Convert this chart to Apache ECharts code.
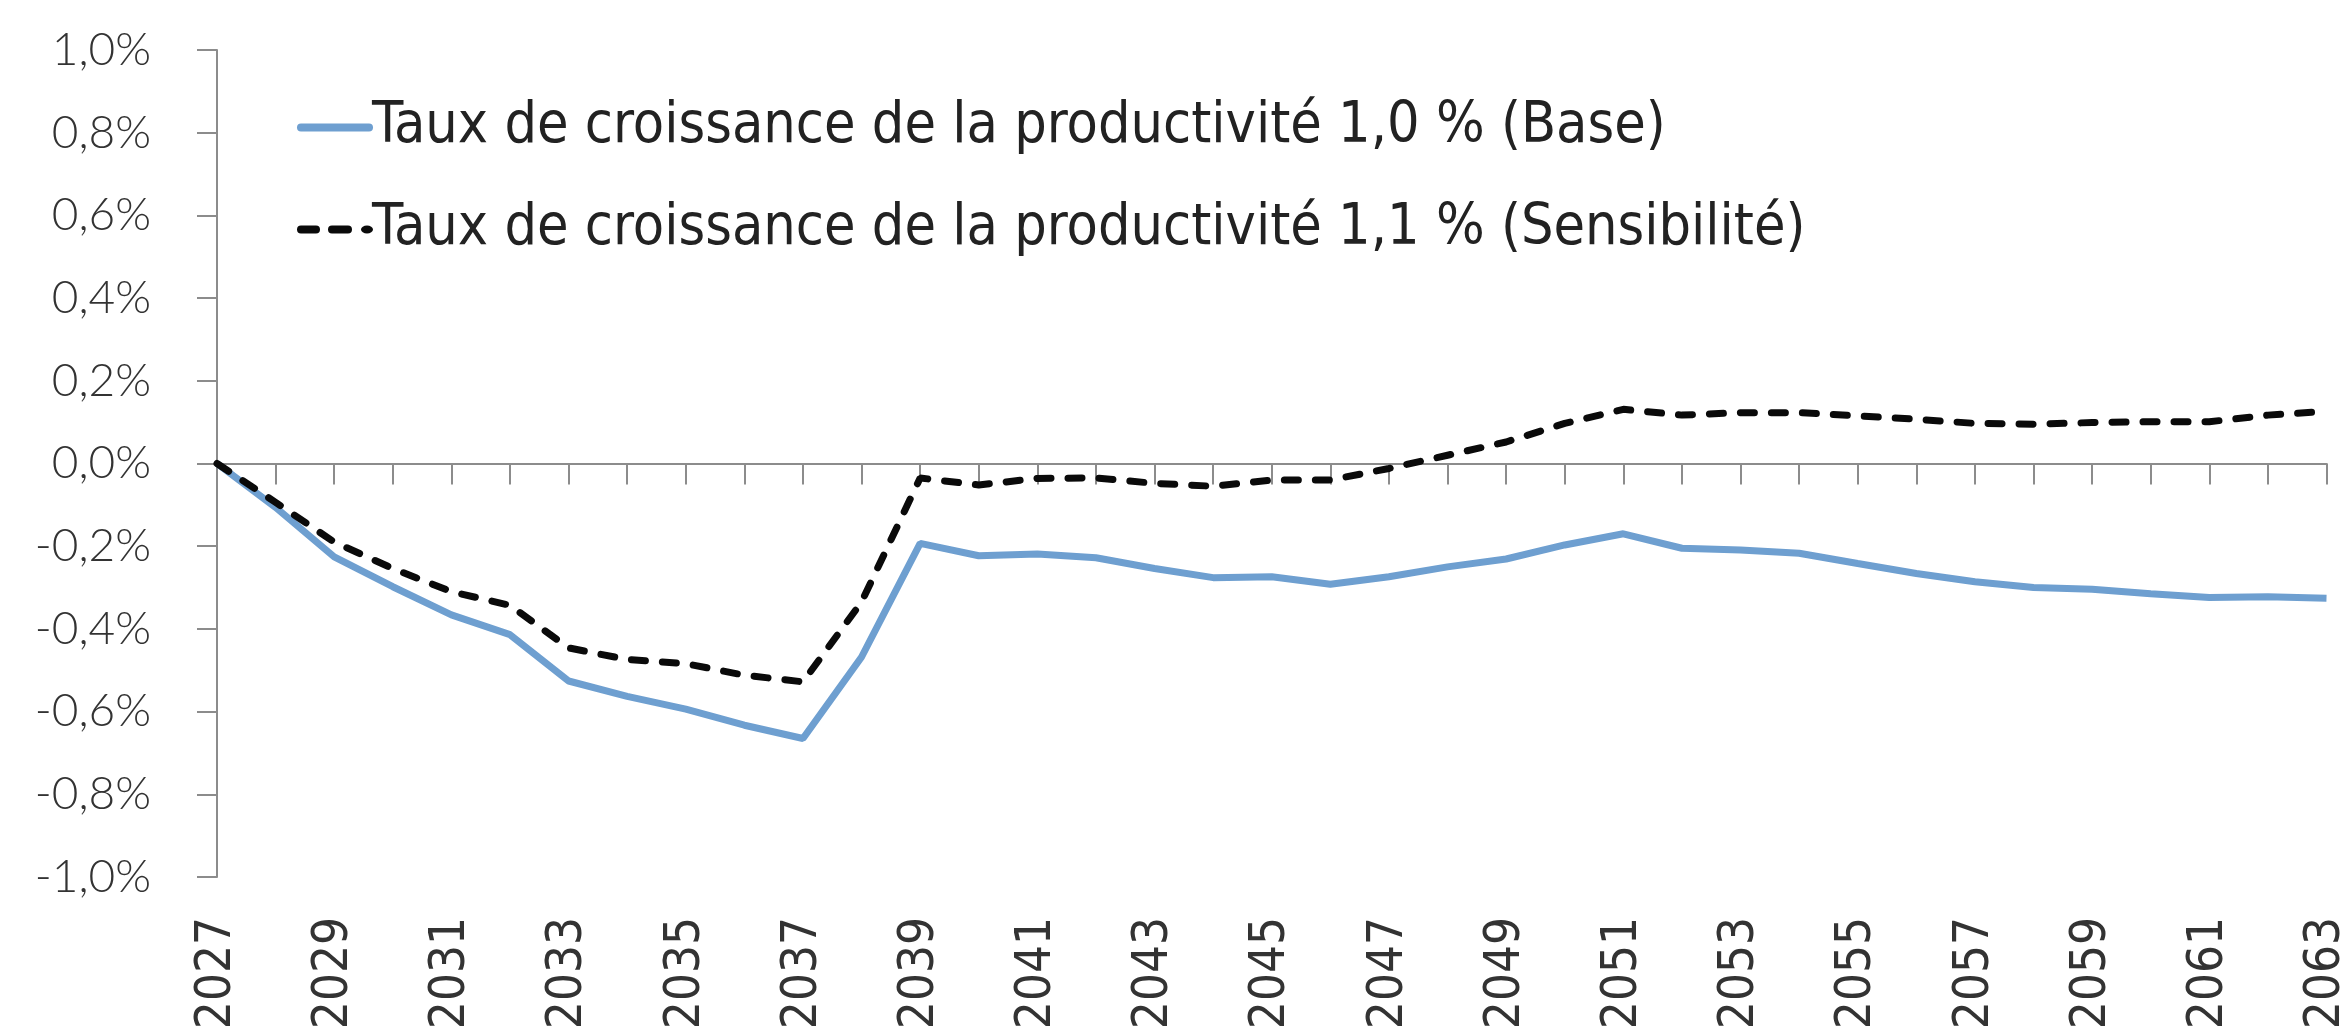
<!DOCTYPE html>
<html lang="fr" style="height: 100%">
<head>
    <meta charset="utf-8">
    <title>Productivité</title>
    <script src="https://cdn.jsdelivr.net/npm/echarts@6.0.0/dist/echarts.min.js"></script>
    <style>
        html, body { margin: 0; padding: 0; background: #fff; }
    </style>
</head>
<body>
<div id="chart" style="width:2351px;height:1034px"></div>
<script type="text/javascript">
    // années 2027 -> 2063
    var years = [];
    for (var y = 2027; y <= 2063; y++) years.push(String(y));

    var nomBase = 'Taux de croissance de la productivité 1,0 % (Base)';
    var nomSens = 'Taux de croissance de la productivité 1,1 % (Sensibilité)';

    // écart en %
    var base = [0, -0.106, -0.226, -0.298, -0.366, -0.414, -0.526, -0.563, -0.594, -0.633,
        -0.665, -0.468, -0.193, -0.223, -0.219, -0.228, -0.254, -0.276, -0.274, -0.292,
        -0.274, -0.25, -0.231, -0.197, -0.170, -0.205, -0.209, -0.217, -0.242, -0.266,
        -0.286, -0.300, -0.304, -0.315, -0.324, -0.322, -0.326];
    var sensibilite = [0, -0.094, -0.19, -0.254, -0.31, -0.343, -0.446, -0.474, -0.484, -0.512,
        -0.528, -0.335, -0.035, -0.052, -0.036, -0.035, -0.048, -0.055, -0.04, -0.04,
        -0.012, 0.02, 0.052, 0.097, 0.131, 0.117, 0.123, 0.123, 0.115, 0.107,
        0.097, 0.095, 0.099, 0.101, 0.101, 0.117, 0.126];

    var chart = echarts.init(document.getElementById('chart'), null, {renderer: 'canvas'});

    var axisGris = '#8c8c8c';
    var bleu = '#6e9fd0';
    var noir = '#0a0a0a';

    // icônes de légende (trait plein / tirets + point)
    var iconePlein = 'path://M4,0 H72 A4,4 0 0 1 72,8 H4 A4,4 0 0 1 4,0 Z';
    var iconeTirets = 'path://M4,0 H19 A4,4 0 0 1 19,8 H4 A4,4 0 0 1 4,0 Z' +
        ' M35,0 H51 A4,4 0 0 1 51,8 H35 A4,4 0 0 1 35,0 Z' +
        ' M64,4 A6,4 0 1 1 76,4 A6,4 0 1 1 64,4 Z';

    var option = {
        animation: false,
        backgroundColor: '#fff',
        grid: {left: 217, right: 24, top: 50, bottom: 157},
        legend: {
            orient: 'vertical',
            left: 292,
            top: 94,
            itemWidth: 76,
            itemHeight: 8,
            itemGap: 45,
            textStyle: {
                fontFamily: 'DejaVu Sans Condensed, Liberation Sans Narrow, Roboto',
                fontSize: 57,
                color: '#222',
                padding: [0, 0, 0, -6]
            },
            data: [
                {name: nomBase, icon: iconePlein, itemStyle: {color: bleu}},
                {name: nomSens, icon: iconeTirets, itemStyle: {color: noir}}
            ]
        },
        xAxis: [
            {
                type: 'category',
                data: years,
                boundaryGap: false,
                position: 'bottom',
                axisLine: {show: false, onZero: false},
                axisTick: {show: false},
                axisLabel: {
                    interval: 1,
                    rotate: 90,
                    margin: 40,
                    fontFamily: 'DejaVu Sans Condensed, Liberation Sans Narrow',
                    fontSize: 49,
                    color: '#333'
                }
            },
            {
                type: 'category',
                data: years,
                boundaryGap: false,
                position: 'bottom',
                axisLine: {show: true, onZero: true, lineStyle: {color: axisGris, width: 2}},
                axisTick: {show: true, interval: 0, length: 21, lineStyle: {color: axisGris, width: 2}},
                axisLabel: {show: false}
            }
        ],
        yAxis: {
            type: 'value',
            min: -1,
            max: 1,
            interval: 0.2,
            splitLine: {show: false},
            axisLine: {show: true, lineStyle: {color: axisGris, width: 2}},
            axisTick: {show: true, length: 20, lineStyle: {color: axisGris, width: 2}},
            axisLabel: {
                margin: 66,
                fontFamily: 'Lato',
                fontWeight: 300,
                fontSize: 46,
                color: '#333',
                formatter: function (v) {
                    return v.toFixed(1).replace('.', ',') + '%';
                }
            }
        },
        series: [
            {
                name: nomBase,
                type: 'line',
                data: base,
                symbol: 'none',
                lineStyle: {color: bleu, width: 7},
                itemStyle: {color: bleu}
            },
            {
                name: nomSens,
                type: 'line',
                data: sensibilite,
                symbol: 'none',
                lineStyle: {color: noir, width: 7, type: [14, 17], cap: 'round'},
                itemStyle: {color: noir}
            }
        ]
    };

    chart.setOption(option);
</script>
</body>
</html>
